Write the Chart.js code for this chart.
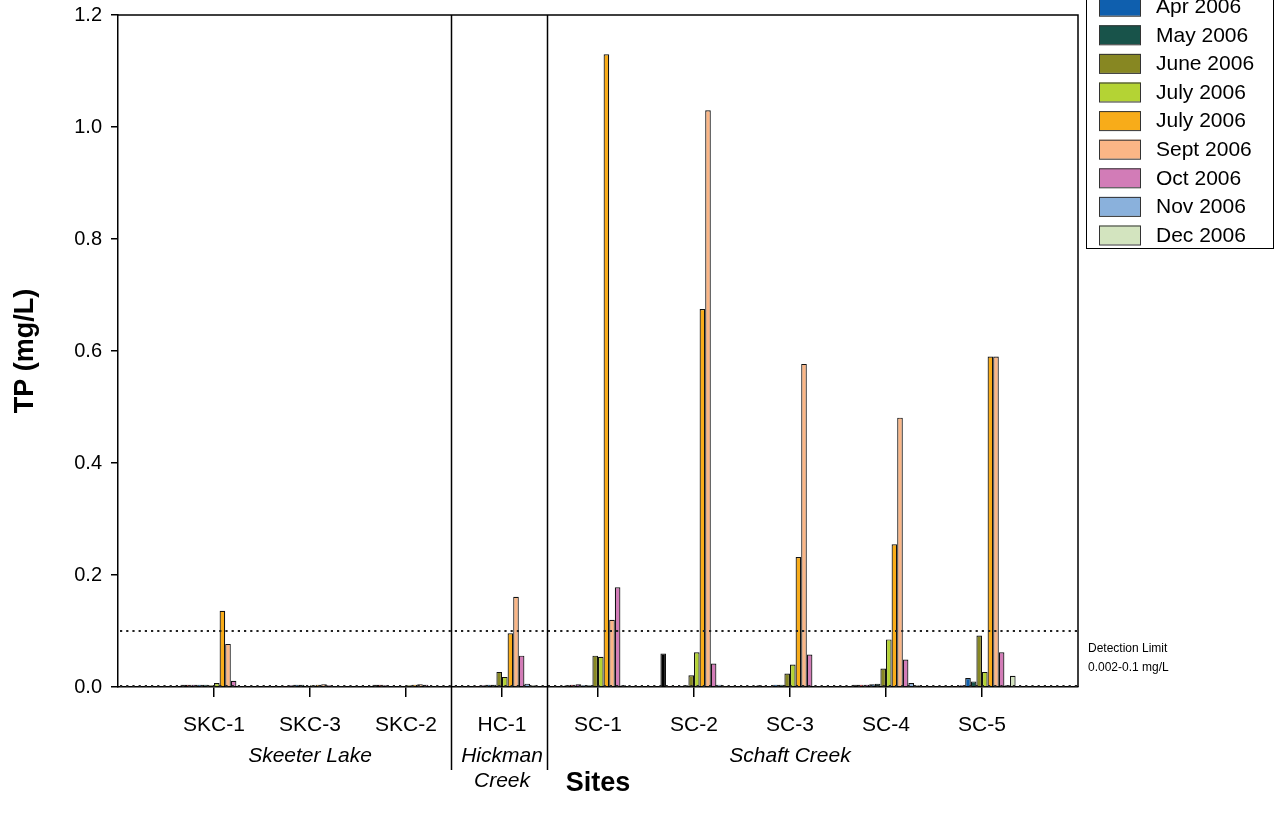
<!DOCTYPE html>
<html>
<head>
<meta charset="utf-8">
<script src="https://cdn.jsdelivr.net/npm/chart.js@4.4.0/dist/chart.umd.min.js"></script>
<style>
  html, body { margin: 0; padding: 0; background: #fff; }
  #wrap { width: 1277px; height: 825px; position: relative; }
</style>
</head>
<body>
<div id="wrap"><canvas id="myChart"></canvas></div>
<script>
// sites (blank ends so the ticks sit inside the frame)
var sites = ["", "SKC-1", "SKC-3", "SKC-2", "HC-1", "SC-1", "SC-2", "SC-3", "SC-4", "SC-5", ""];
var yTicks = [0, 0.2, 0.4, 0.6, 0.8, 1.0, 1.2];
var detectionLimits = [0.002, 0.1];

var monthLabels = ["Jan 2006", "Feb 2006", "Mar 2006", "Apr 2006", "May 2006", "June 2006",
    "July 2006", "July 2006", "Sept 2006", "Oct 2006", "Nov 2006", "Dec 2006"];
var monthColors = ["#000000", "#e8202a", "#8a3d96", "#0f5fae", "#18534a", "#878722",
    "#b4d334", "#f8ac19", "#fbb686", "#d27cb7", "#8ab1dc", "#d3e4bf"];

// TP values per month, SKC-1 .. SC-5
var tpJan  = [0.004, 0.002, 0.004, 0.002, 0.003, 0.060, 0.003, 0.004, 0.002];
var tpFeb  = [0.004, 0.002, 0.004, 0.002, 0.004, 0.002, 0.002, 0.004, 0.002];
var tpMar  = [0.004, 0.003, 0.003, 0.003, 0.005, 0.002, 0.002, 0.004, 0.003];
var tpApr  = [0.004, 0.004, 0.002, 0.004, 0.003, 0.002, 0.004, 0.005, 0.016];
var tpMay  = [0.004, 0.004, 0.002, 0.004, 0.003, 0.003, 0.004, 0.006, 0.010];
var tpJun  = [0.003, 0.002, 0.002, 0.027, 0.056, 0.021, 0.024, 0.033, 0.092];
var tpJulA = [0.007, 0.003, 0.003, 0.018, 0.054, 0.062, 0.040, 0.085, 0.027];
var tpJulB = [0.136, 0.004, 0.004, 0.096, 1.130, 0.675, 0.232, 0.255, 0.590];
var tpSep  = [0.077, 0.005, 0.005, 0.161, 0.120, 1.030, 0.577, 0.481, 0.590];
var tpOct  = [0.011, 0.003, 0.004, 0.056, 0.178, 0.042, 0.058, 0.049, 0.062];
var tpNov  = [0.002, 0.002, 0.002, 0.006, 0.003, 0.004, 0.002, 0.007, 0.003];
var tpDec  = [0.002, 0.002, 0.002, 0.003, 0.002, 0.002, 0.002, 0.003, 0.020];

var allTp = [tpJan, tpFeb, tpMar, tpApr, tpMay, tpJun, tpJulA, tpJulB, tpSep, tpOct, tpNov, tpDec];

var groups = [
    { lines: ["Skeeter Lake"], at: 2 },
    { lines: ["Hickman", "Creek"], at: 4 },
    { lines: ["Schaft Creek"], at: 7 }
];
var dividers = [3.47, 4.47];

var datasets = allTp.map(function (vals, i) {
    return {
        label: monthLabels[i],
        data: [null].concat(vals).concat([null]),
        backgroundColor: monthColors[i],
        borderColor: "#111",
        borderWidth: 1.2,
        borderSkipped: "bottom",
        categoryPercentage: 0.7,
        barPercentage: 1.0
    };
});

// frame, dividers, detection lines, group names and legend
var extras = {
    id: "extras",
    afterDatasetsDraw: function (chart) {
        var ctx = chart.ctx;
        var a = chart.chartArea;
        var x = chart.scales.x, y = chart.scales.y;
        ctx.save();
        // detection limit dotted lines
        ctx.strokeStyle = "#222";
        ctx.lineWidth = 2.2;
        ctx.setLineDash([2.2, 4]);
        detectionLimits.forEach(function (v) {
            var py = Math.round(y.getPixelForValue(v));
            ctx.beginPath();
            ctx.moveTo(a.left + 2, py);
            ctx.lineTo(a.right, py);
            ctx.stroke();
        });
        ctx.setLineDash([]);
        // top and right frame
        ctx.lineWidth = 1.5;
        ctx.strokeStyle = "#000";
        ctx.beginPath();
        ctx.moveTo(a.left, a.top);
        ctx.lineTo(a.right, a.top);
        ctx.lineTo(a.right, a.bottom);
        ctx.stroke();
        // group dividers
        dividers.forEach(function (d) {
            var px = Math.round(x.getPixelForValue(d)) + 0.5;
            ctx.beginPath();
            ctx.moveTo(px, a.top);
            ctx.lineTo(px, 770);
            ctx.stroke();
        });
        // group names
        ctx.fillStyle = "#000";
        ctx.font = "italic 21px 'Liberation Sans', Arial, sans-serif";
        ctx.textAlign = "center";
        ctx.textBaseline = "middle";
        groups.forEach(function (g) {
            var px = x.getPixelForValue(g.at);
            g.lines.forEach(function (t, k) {
                ctx.fillText(t, px, 756 + k * 25);
            });
        });
        // detection limit note
        ctx.font = "12px 'Liberation Sans Narrow', 'Arial Narrow', sans-serif";
        ctx.textAlign = "left";
        ctx.fillText("Detection Limit", a.right + 10, 649);
        ctx.fillText("0.002-0.1 mg/L", a.right + 10, 668);
        // legend (top rows run off the canvas)
        var rowH = 28.6;
        var lastY = 235;
        ctx.lineWidth = 1;
        ctx.strokeStyle = "#000";
        ctx.strokeRect(1086.5, lastY - (monthLabels.length - 1) * rowH - 20, 187, (monthLabels.length - 1) * rowH + 33.5);
        ctx.font = "21px 'Liberation Sans', Arial, sans-serif";
        monthLabels.forEach(function (lab, i) {
            var cy = lastY - (monthLabels.length - 1 - i) * rowH;
            ctx.fillStyle = monthColors[i];
            ctx.fillRect(1099, cy - 9.5, 42, 19);
            ctx.strokeStyle = "#333";
            ctx.strokeRect(1099.5, cy - 9, 41, 19);
            ctx.fillStyle = "#000";
            ctx.fillText(lab, 1156, cy + 1);
        });
        ctx.restore();
    }
};

var ctx = document.getElementById("myChart").getContext("2d");
window.myChart = new Chart(ctx, {
    type: "bar",
    data: { labels: sites, datasets: datasets },
    options: {
        responsive: true,
        maintainAspectRatio: false,
        animation: false,
        layout: { padding: { left: 0, right: 199, top: 15, bottom: 0 } },
        plugins: {
            legend: { display: false },
            tooltip: { enabled: false }
        },
        scales: {
            x: {
                offset: false,
                grid: {
                    display: true,
                    offset: false,
                    drawOnChartArea: false,
                    drawTicks: true,
                    tickLength: 10,
                    lineWidth: 1.5,
                    color: function (c) {
                        return (c.index === 0 || c.index === sites.length - 1) ? "rgba(0,0,0,0)" : "#000";
                    }
                },
                border: { display: true, color: "#000", width: 1.5 },
                ticks: {
                    color: "#000",
                    padding: 16,
                    maxRotation: 0,
                    autoSkip: false,
                    font: { family: "'Liberation Sans', Arial, sans-serif", size: 21 }
                },
                title: {
                    display: true,
                    text: "Sites",
                    color: "#000",
                    padding: { top: 0, bottom: 25 },
                    font: { family: "'Liberation Sans', Arial, sans-serif", size: 27, weight: "bold" }
                },
                afterFit: function (s) { s.height = 138; s.paddingLeft = 0; s.paddingRight = 0; }
            },
            y: {
                min: 0,
                max: 1.2,
                afterBuildTicks: function (s) {
                    s.ticks = yTicks.map(function (v) { return { value: v }; });
                },
                grid: {
                    display: true,
                    drawOnChartArea: false,
                    drawTicks: true,
                    tickLength: 7,
                    lineWidth: 1.5,
                    color: "#000"
                },
                border: { display: true, color: "#000", width: 1.5 },
                ticks: {
                    color: "#000",
                    padding: 9,
                    callback: function (v) { return Number(v).toFixed(1); },
                    font: { family: "'Liberation Sans', Arial, sans-serif", size: 20 }
                },
                title: {
                    display: true,
                    text: "TP (mg/L)",
                    color: "#000",
                    padding: { top: 9, bottom: 0 },
                    font: { family: "'Liberation Sans', Arial, sans-serif", size: 27, weight: "bold" }
                },
                afterFit: function (s) { s.width = 118; s.paddingTop = 0; s.paddingBottom = 0; }
            }
        }
    },
    plugins: [extras]
});
</script>
</body>
</html>
